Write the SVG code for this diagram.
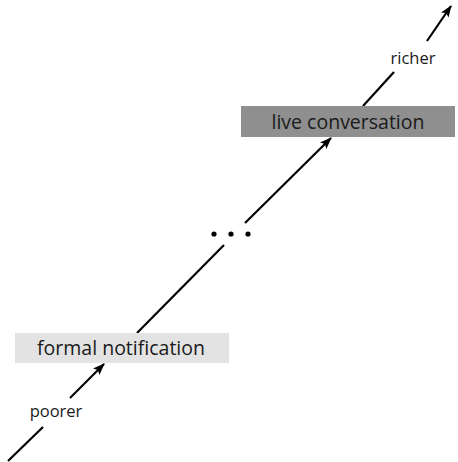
<svg xmlns="http://www.w3.org/2000/svg" width="458" height="462" viewBox="0 0 458 462">
<defs>
<marker id="ah" viewBox="0 0 12 10" refX="11" refY="5" markerWidth="12" markerHeight="10" markerUnits="userSpaceOnUse" orient="auto">
<path d="M0,0.5 L12,5 L0,9.5 L2.5,5 Z" fill="#000"/>
</marker>
<style>
.ln{stroke:#000;stroke-width:2.2;fill:none}
.t{font-family:"Open Sans","DejaVu Sans",sans-serif;fill:#1a1a1a}
.lbl{font-size:19.5px;text-anchor:middle}
.sm{font-size:16.5px;text-anchor:middle}
</style>
</defs>
<g id="connectors">
<line class="ln" x1="8" y1="461" x2="43" y2="427"/>
<line class="ln" x1="70" y1="398" x2="104" y2="364" marker-end="url(#ah)"/>
<line class="ln" x1="137" y1="333" x2="224" y2="245"/>
<line class="ln" x1="245" y1="223" x2="331" y2="138" marker-end="url(#ah)"/>
<line class="ln" x1="363" y1="106" x2="394" y2="72"/>
<line class="ln" x1="427" y1="41" x2="451" y2="6" marker-end="url(#ah)"/>
</g>
<g id="poorer"><text class="t sm" x="56" y="417">poorer</text></g>
<g id="formal">
<rect x="15" y="333" width="214" height="30" fill="#e3e3e3"/>
<text class="t lbl" x="121" y="355">formal notification</text>
</g>
<g id="dots">
<circle cx="214" cy="234" r="2.6" fill="#000"/>
<circle cx="231" cy="234" r="2.6" fill="#000"/>
<circle cx="248" cy="234" r="2.6" fill="#000"/>
</g>
<g id="live">
<rect x="241" y="106" width="214" height="31" fill="#8f8f8f"/>
<text class="t lbl" x="348" y="129">live conversation</text>
</g>
<g id="richer"><text class="t sm" x="413" y="64">richer</text></g>
</svg>
